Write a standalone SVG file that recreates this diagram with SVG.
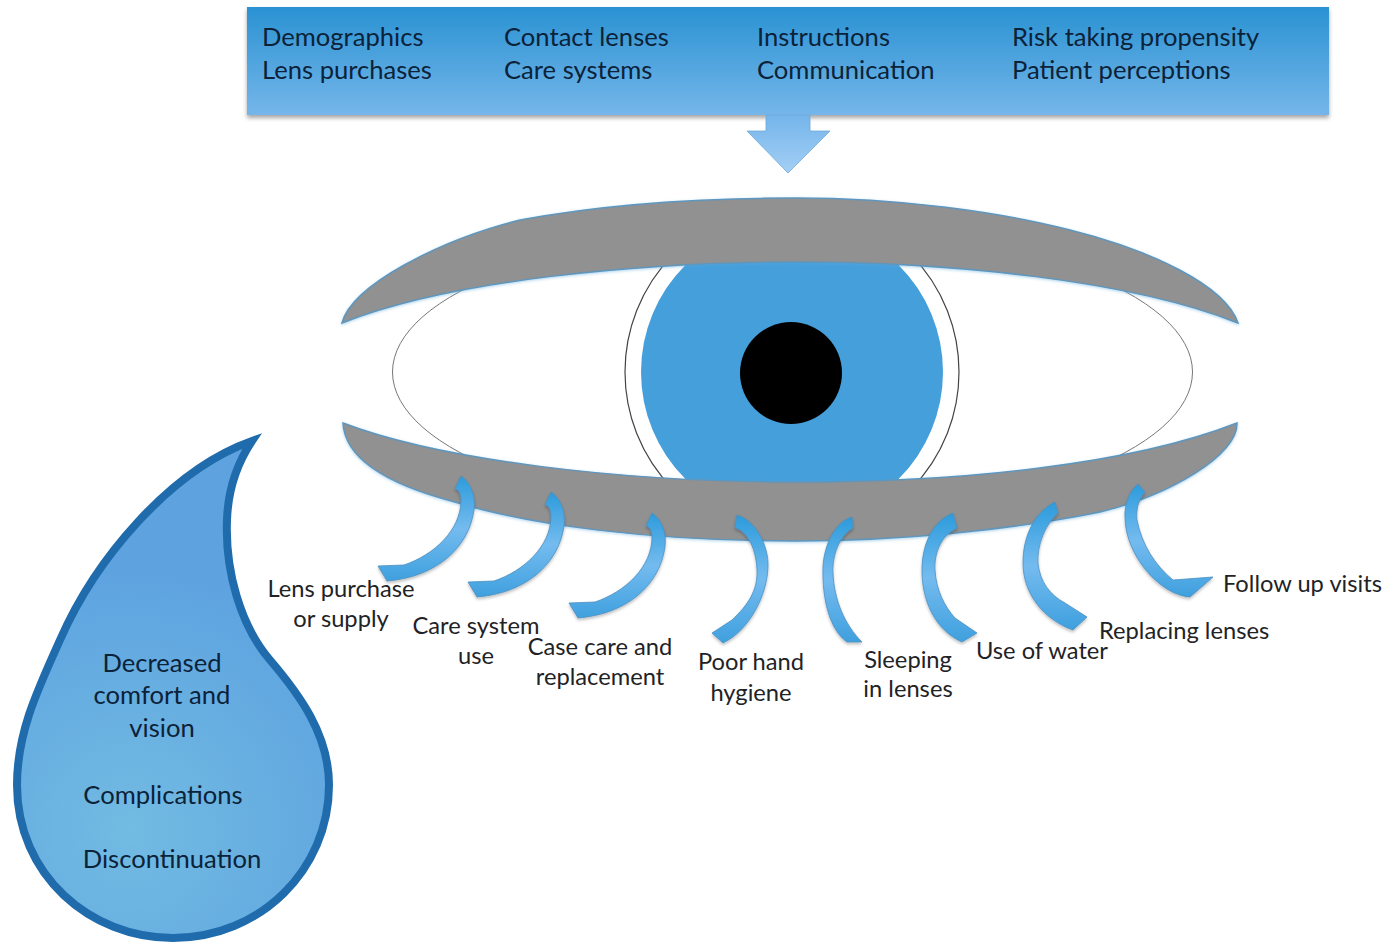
<svg xmlns="http://www.w3.org/2000/svg" xmlns:xlink="http://www.w3.org/1999/xlink" width="1391" height="943" viewBox="0 0 1391 943">
<style>
text{font-family:"Lato","Open Sans","Liberation Sans",sans-serif;font-size:23.7px;fill:#1f2326}
.in{fill:#0c2238;font-size:25.6px}
.m{text-anchor:middle}
.lid{fill:#919191;stroke:#5f96bd;stroke-width:1.5;filter:url(#sl)}
.arc{fill:url(#ga);stroke:#4d8fc0;stroke-width:.8;filter:url(#sa)}
</style>
<defs>
<linearGradient id="gb" x1="0" y1="0" x2="0" y2="1"><stop offset="0" stop-color="#2a92d2"/><stop offset="1" stop-color="#75b6ea"/></linearGradient>
<linearGradient id="gd" x1="0" y1="0" x2="0" y2="1"><stop offset="0" stop-color="#74b5ea"/><stop offset="1" stop-color="#a3cff5"/></linearGradient>
<linearGradient id="ga" x1="0" y1="0" x2="0" y2="1"><stop offset="0" stop-color="#2c9bdc"/><stop offset=".5" stop-color="#74bbef"/><stop offset="1" stop-color="#3fa0de"/></linearGradient>
<radialGradient id="gt" gradientUnits="userSpaceOnUse" cx="130" cy="830" r="260"><stop offset="0" stop-color="#72bbe2"/><stop offset="1" stop-color="#5ea3e0"/></radialGradient>
<filter id="sb" x="-5%" y="-10%" width="110%" height="125%"><feDropShadow dx="0" dy="3" stdDeviation="2" flood-color="#000" flood-opacity=".35"/></filter>
<filter id="sa" x="-30%" y="-30%" width="160%" height="160%"><feDropShadow dx="0" dy="2" stdDeviation="1.5" flood-color="#000" flood-opacity=".25"/></filter>
<filter id="sl" x="-5%" y="-10%" width="110%" height="125%"><feDropShadow dx="0" dy="1" stdDeviation="1.5" flood-color="#5aa7dc" flood-opacity=".5"/></filter>
<path id="a1" class="arc" d="M461 476C470 482 476 495 474 510C469 547 437 577 387 581L378 566L404 565C434 555 461 530 461 500C461 493 458 489 455 489Z"/>
</defs>

<g id="factors">
<rect x="247" y="7" width="1082" height="108" fill="url(#gb)" filter="url(#sb)"/>
<path d="M766 115H810V131H830L788 173L747 131H766Z" fill="url(#gd)" stroke="#6ea8d8" stroke-width=".8"/>
<text class="in" x="262" y="46">Demographics</text>
<text class="in" x="262" y="79">Lens purchases</text>
<text class="in" x="504" y="46">Contact lenses</text>
<text class="in" x="504" y="79">Care systems</text>
<text class="in" x="757" y="46">Instructions</text>
<text class="in" x="757" y="79">Communication</text>
<text class="in" x="1012" y="46">Risk taking propensity</text>
<text class="in" x="1012" y="79">Patient perceptions</text>
</g>

<g id="eye">
<ellipse cx="792.500" cy="372" rx="400" ry="145" fill="#fff" stroke="#777" stroke-width="1"/>
<circle cx="792" cy="372" r="167" fill="#fff" stroke="#444" stroke-width="1.2"/>
<circle cx="792" cy="372" r="151" fill="#459fdb"/>
<circle cx="791" cy="373" r="51" fill="#000"/>
<path class="lid" d="M342 323C352 285 440 240 520 220C600 205 700 198 795 198C900 198 1000 212 1070 230C1150 250 1225 285 1238 323C1130 280 950 262 795 262C640 262 450 280 342 323Z"/>
<path class="lid" d="M343 423C440 460 620 482 795 482C960 482 1130 465 1237 423C1238 455 1170 495 1100 512C1010 530 900 541 795 541C650 541 530 525 455 502C390 485 345 460 343 423Z"/>
</g>

<g id="connectors">
<use xlink:href="#a1" href="#a1"/>
<use xlink:href="#a1" href="#a1" transform="translate(90 16)"/>
<use xlink:href="#a1" href="#a1" transform="translate(191 37)"/>
<path class="arc" d="M737 515C755 520 769 545 768 567C767 595 750 630 723 643L712 633L732 620C748 605 758 590 757 570C756 545 745 530 735 528Z"/>
<path class="arc" d="M852 517L853 528C840 535 832 555 833 573C834 600 845 625 862 642L847 642C830 630 822 600 823 567C824 545 835 522 852 517Z"/>
<path class="arc" d="M953 513L957 528C942 535 934 552 935 570C936 590 945 607 955 618L977 633L962 642C935 630 921 600 922 567C923 540 935 520 953 513Z"/>
<path class="arc" d="M1055 502L1058 513C1045 525 1037 545 1038 563C1040 582 1050 595 1065 603L1087 617L1073 630C1045 620 1023 595 1023 563C1023 535 1035 512 1055 502Z"/>
<path class="arc" d="M1138 484L1145 492C1138 500 1136 510 1137 520C1142 545 1155 565 1173 580L1213 577L1190 597C1160 595 1125 555 1125 517C1124 505 1130 490 1138 484Z"/>
</g>

<g id="labels">
<text class="m" x="341" y="597">Lens purchase</text>
<text class="m" x="341" y="627">or supply</text>
<text class="m" x="476" y="634">Care system</text>
<text class="m" x="476" y="664">use</text>
<text class="m" x="600" y="655">Case care and</text>
<text class="m" x="600" y="685">replacement</text>
<text class="m" x="751" y="670">Poor hand</text>
<text class="m" x="751" y="701">hygiene</text>
<text class="m" x="908" y="668">Sleeping</text>
<text class="m" x="908" y="697">in lenses</text>
<text x="976" y="659">Use of water</text>
<text x="1099" y="639">Replacing lenses</text>
<text x="1223" y="592">Follow up visits</text>
</g>

<g id="tear">
<path d="M252 441C170 470 95 560 60 640C35 695 17 735 17 785C17 875 90 938 173 938C260 938 329 870 329 785C329 735 300 695 270 660C240 625 225 570 227 520C228 490 238 462 252 441Z" fill="url(#gt)" stroke="#1f6bac" stroke-width="8"/>
<text class="in m" x="162" y="672">Decreased</text>
<text class="in m" x="162" y="704">comfort and</text>
<text class="in m" x="162" y="737">vision</text>
<text class="in m" x="163" y="804">Complications</text>
<text class="in m" x="172" y="868">Discontinuation</text>
</g>
</svg>
